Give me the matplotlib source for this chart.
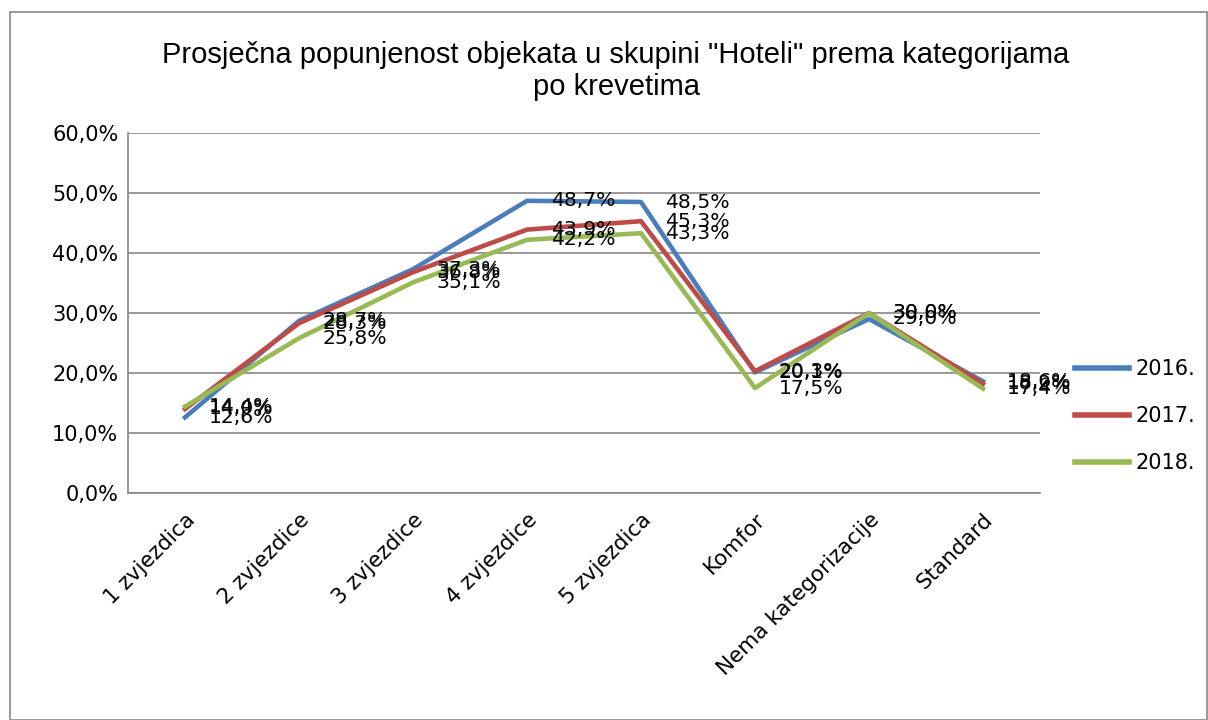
import matplotlib.pyplot as plt
from matplotlib.patches import Rectangle

categories = ['1 zvjezdica', '2 zvjezdice', '3 zvjezdice', '4 zvjezdice',
              '5 zvjezdica', 'Komfor', 'Nema kategorizacije', 'Standard']
v2016 = [12.6, 28.7, 37.3, 48.7, 48.5, 20.1, 29.0, 18.6]
v2017 = [14.0, 28.3, 36.8, 43.9, 45.3, 20.3, 30.0, 18.2]
v2018 = [14.4, 25.8, 35.1, 42.2, 43.3, 17.5, 30.0, 17.4]
series = [('2016.', v2016, '#4A7EBB'), ('2017.', v2017, '#BE4B48'), ('2018.', v2018, '#98B954')]

fig = plt.figure(figsize=(12.08, 7.2), dpi=100)
ax = fig.add_axes([128 / 1208, 1 - 493 / 720, 912 / 1208, 360 / 720])

fig.patches.append(Rectangle((10 / 1208, 0), 1 - 10 / 1208 - 0.001, 1 - 12 / 720,
                             transform=fig.transFigure, fill=False,
                             edgecolor='#888888', linewidth=1.2))

x = range(len(categories))
for name, vals, col in series:
    ax.plot(x, vals, color=col, linewidth=3.3, label=name)
    for xi, v in zip(x, vals):
        lbl = f'{v:.1f}%'.replace('.', ',')
        ax.annotate(lbl, (xi, v), xytext=(17, 0), textcoords='offset points',
                    ha='left', va='center', fontsize=14.7, color='black')

ax.set_xlim(-0.5, len(categories) - 0.5)
ax.set_ylim(0, 60)
ax.set_yticks(range(0, 61, 10))
ax.set_yticklabels([f'{t},0%' for t in range(0, 61, 10)], fontsize=15)
ax.set_xticks(list(x))
ax.set_xticklabels(categories, rotation=45, ha='right', rotation_mode='anchor', fontsize=15.5)
ax.tick_params(axis='x', length=0, pad=12)
ax.tick_params(axis='y', length=0, pad=7)
ax.grid(axis='y', color='#888888', linewidth=1.2)
ax.set_axisbelow(True)
for s in ['top', 'right']:
    ax.spines[s].set_visible(False)
ax.spines['left'].set_color('#888888')
ax.spines['bottom'].set_color('#888888')
ax.spines['left'].set_linewidth(1.2)
ax.spines['bottom'].set_linewidth(1.2)

fig.text(616 / 1208, 1 - 71 / 720,
         'Prosječna popunjenost objekata u skupini "Hoteli" prema kategorijama\npo krevetima',
         ha='center', va='center', fontsize=21, linespacing=1.2,
         family=['Liberation Sans', 'DejaVu Sans'])

leg = fig.legend(loc='center left', bbox_to_anchor=(1056 / 1208, 1 - 416 / 720),
                 frameon=False, fontsize=15, handlelength=2.6, labelspacing=1.3,
                 handletextpad=0.3)
for line in leg.get_lines():
    line.set_linewidth(4)

fig.savefig('out.png', dpi=100)
